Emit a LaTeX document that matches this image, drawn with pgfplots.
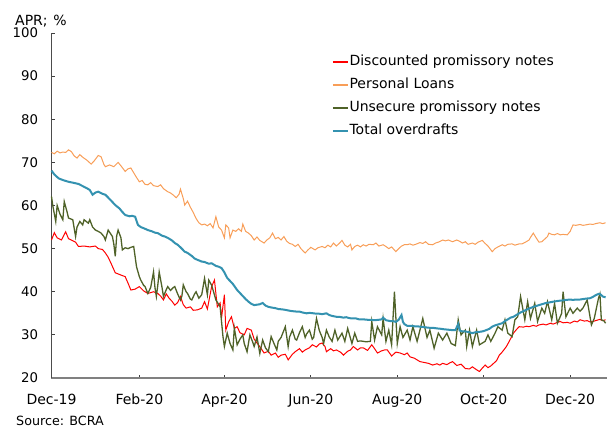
\documentclass[border=0pt]{standalone}
\usepackage{pgfplots}
\pgfplotsset{compat=1.18}
\usepackage{fontspec}
\setmainfont{DejaVu Sans}
\definecolor{cred}{RGB}{255,0,0}
\definecolor{corange}{RGB}{248,158,88}
\definecolor{cgreen}{RGB}{79,98,40}
\definecolor{cblue}{RGB}{52,146,176}
\begin{document}
\begin{tikzpicture}
\useasboundingbox (-51.5bp,-50bp) rectangle (555.5bp,378bp);
\begin{axis}[
  scale only axis,
  width=555.5bp, height=345bp,
  xmin=0, xmax=392, ymin=20, ymax=100,
  axis x line*=bottom, axis y line*=left,
  x axis line style={draw=black!50, line width=1.6bp},
  y axis line style={draw=black!70, line width=0.9bp},
  xtick={0,62,122,183,244,305,366},
  xticklabels={Dec-19,Feb-20,Apr-20,Jun-20,Aug-20,Oct-20,Dec-20},
  ytick={20,30,40,50,60,70,80,90,100},
  tick align=inside,
  major tick length=3bp,
  tick style={draw=black!75, line width=0.8bp},
  /pgf/number format/assume math mode=true,
  yticklabel style={font=\fontsize{13.3bp}{16bp}\selectfont, xshift=-10bp},
  xticklabel style={font=\fontsize{14bp}{16bp}\selectfont, yshift=-12.5bp},
  clip=false,
  legend style={at={(axis description cs:0.505,0.935)}, anchor=north west,
    draw=none, fill=none, inner sep=0pt, row sep=10bp,
    font=\fontsize{14bp}{16bp}\selectfont,
    nodes={inner ysep=0pt, inner xsep=1bp, text height=10bp, text depth=3bp}},
  legend cell align=left,
  legend image code/.code={\draw[#1, line width=1.3bp] (0bp,0bp) -- (15bp,0bp);},
]
\addplot[cred, line width=1bp] coordinates {
(0,52.0) (2,53.7) (4,52.5) (7,52.0) (10,53.9) (12,52.3) (14,52.0) (17,51.5) (19,50.5) (23,50.6) (27,50.4) (31,50.6) (33,50.0) (36,49.8) (38,49.0) (40,48.0) (42,46.6) (45,44.4) (48,44.0) (52,43.5) (54,42.0) (56,40.4) (59,40.6) (62,41.2) (65,40.2) (68,39.6) (72,40.0) (75,39.6) (77,39.0) (79,38.1) (81,39.5) (83,38.5) (85,37.8) (87,36.9) (89,37.5) (91,38.9) (93,37.0) (95,36.2) (98,36.5) (100,35.7) (103,35.8) (106,36.2) (108,37.7) (110,36.0) (113,41.2) (115,42.7) (117,36.5) (119,37.4) (120,34.0) (122,39.3) (123,31.1) (125,33.0) (127,34.2) (129,31.5) (131,31.9) (133,30.5) (136,30.0) (138,31.5) (141,31.1) (143,29.0) (146,27.7) (148,26.8) (150,25.8) (153,26.2) (155,25.3) (158,25.8) (160,24.8) (162,25.3) (165,25.5) (167,24.2) (170,25.5) (172,26.1) (175,26.8) (177,26.0) (179,26.5) (182,27.0) (184,27.7) (187,27.2) (189,27.9) (191,28.1) (193,27.3) (194,26.1) (197,26.8) (199,26.3) (201,26.5) (204,26.0) (206,25.3) (209,26.2) (211,26.5) (213,27.3) (216,26.5) (218,27.0) (220,27.0) (223,26.4) (226,27.7) (228,26.8) (230,25.8) (233,26.3) (235,26.5) (237,26.5) (240,25.1) (243,26.0) (246,25.8) (249,25.4) (251,25.8) (253,24.9) (256,24.6) (258,24.2) (260,23.8) (263,23.6) (266,23.4) (269,23.0) (272,23.3) (274,23.0) (276,23.4) (279,23.1) (281,23.5) (283,23.8) (286,22.9) (289,23.2) (292,22.2) (295,22.1) (297,22.6) (300,21.9) (302,21.5) (304,22.3) (306,23.0) (308,22.4) (310,22.8) (312,23.4) (314,24.0) (316,25.3) (318,26.0) (321,27.3) (323,28.5) (326,30.4) (328,31.2) (330,31.9) (333,31.8) (335,32.0) (337,31.9) (340,32.2) (342,32.0) (344,32.3) (347,32.5) (349,32.3) (352,32.7) (354,32.5) (357,32.9) (359,33.1) (361,32.8) (364,32.9) (366,32.7) (369,33.2) (371,33.0) (373,33.5) (376,33.2) (378,33.3) (380,33.0) (382,33.1) (385,33.4) (387,33.6) (389,33.3) (391,33.5)
};
\addlegendentry{Discounted promissory notes}
\addplot[corange, line width=1bp] coordinates {
(0,72.3) (2,72.0) (4,72.6) (6,72.2) (8,72.4) (10,72.3) (12,72.9) (14,72.5) (16,71.5) (18,71.0) (20,71.8) (22,71.2) (25,70.5) (28,69.6) (30,70.3) (33,71.6) (35,71.3) (37,69.5) (38,69.0) (41,69.4) (44,69.0) (47,70.0) (49,69.2) (52,67.9) (54,68.5) (56,68.7) (58,67.6) (60,66.5) (62,65.5) (64,65.8) (66,64.9) (68,64.8) (70,65.3) (72,64.6) (75,64.4) (77,64.8) (79,63.9) (82,63.2) (84,62.9) (86,62.4) (88,61.8) (90,62.6) (91,63.8) (93,61.6) (94,60.1) (96,61.0) (98,59.6) (100,58.4) (102,57.0) (104,56.0) (106,55.5) (108,55.7) (110,55.3) (112,55.8) (114,54.8) (116,57.4) (118,55.0) (120,54.3) (122,52.5) (123,55.5) (125,54.8) (126,52.5) (128,54.3) (130,54.0) (132,54.6) (134,54.0) (135,55.7) (137,54.0) (139,53.6) (141,53.0) (143,52.0) (145,52.7) (147,51.9) (150,51.3) (152,52.0) (154,52.5) (156,53.6) (158,52.3) (160,52.6) (162,52.0) (164,52.8) (166,51.7) (168,51.2) (170,51.0) (172,50.5) (174,51.0) (176,50.0) (178,49.3) (179,49.0) (181,49.7) (183,50.3) (186,49.7) (188,50.2) (191,50.5) (193,50.2) (195,50.8) (197,50.4) (199,51.3) (201,50.6) (203,51.2) (205,51.9) (207,50.8) (209,50.4) (211,51.0) (212,49.7) (214,50.5) (216,50.8) (218,50.4) (220,50.9) (222,50.6) (224,51.0) (227,50.9) (229,51.3) (231,50.6) (234,50.9) (236,50.5) (238,50.0) (240,50.4) (243,49.3) (245,50.0) (247,50.6) (249,50.9) (251,50.9) (253,51.1) (255,50.8) (257,51.0) (260,51.4) (262,51.2) (264,51.6) (266,51.0) (269,50.9) (271,51.3) (273,51.5) (276,52.0) (278,51.8) (280,52.0) (283,51.6) (286,52.0) (288,51.7) (290,51.3) (292,51.6) (294,51.0) (297,51.3) (299,51.0) (301,51.5) (304,51.9) (306,51.2) (308,50.6) (311,49.3) (313,50.0) (315,50.4) (318,50.9) (320,50.6) (322,51.0) (325,51.1) (327,50.8) (330,51.1) (332,51.1) (335,51.6) (337,52.0) (338,52.6) (340,53.6) (342,52.5) (344,51.5) (346,51.6) (348,52.2) (350,52.8) (351,53.6) (353,53.3) (355,53.2) (357,53.5) (359,53.2) (361,53.3) (364,53.2) (366,54.0) (368,55.5) (370,55.4) (373,55.6) (375,55.4) (377,55.5) (380,55.7) (382,55.6) (384,55.8) (387,56.0) (389,55.8) (391,56.0)
};
\addlegendentry{Personal Loans}
\addplot[cgreen, line width=1.3bp] coordinates {
(0,62.1) (1,59.8) (3,56.3) (4,60.0) (6,58.0) (8,56.7) (9,60.9) (11,58.5) (12,57.1) (15,56.7) (17,52.8) (18,55.0) (20,56.3) (22,55.5) (23,56.7) (26,55.9) (27,56.7) (29,55.0) (31,54.3) (33,54.0) (35,53.6) (37,52.8) (38,52.0) (40,54.3) (43,52.8) (44,51.0) (45,48.2) (46,53.0) (47,54.3) (49,52.5) (50,49.7) (52,50.2) (54,50.0) (56,50.3) (58,50.5) (60,45.8) (62,43.5) (63,42.7) (65,41.5) (66,41.2) (68,39.6) (70,41.0) (72,44.6) (73,41.0) (74,38.9) (75,41.5) (76,44.6) (78,41.0) (79,38.9) (81,40.5) (82,41.2) (84,40.3) (86,41.0) (87,41.2) (89,39.5) (91,38.1) (92,39.0) (93,41.6) (95,40.0) (96,39.6) (98,38.3) (99,38.1) (101,39.5) (102,40.0) (104,38.5) (106,39.3) (108,43.1) (110,39.3) (111,42.7) (113,41.5) (114,40.4) (116,38.1) (119,36.5) (121,29.6) (122,27.3) (124,30.4) (126,28.0) (128,26.5) (129,31.6) (131,27.7) (133,29.0) (135,30.0) (136,28.0) (138,26.1) (140,30.0) (142,28.3) (143,27.3) (145,29.5) (147,25.7) (149,28.8) (151,27.0) (153,26.1) (155,29.6) (157,28.0) (159,26.5) (160,28.5) (162,29.4) (165,31.9) (167,27.3) (168,29.5) (170,31.1) (172,29.0) (173,28.8) (175,30.5) (177,31.9) (179,29.4) (180,30.2) (182,31.1) (184,29.0) (185,29.4) (187,33.8) (189,31.0) (191,29.4) (192,28.0) (194,31.1) (196,29.5) (198,28.5) (200,31.1) (202,28.8) (205,30.4) (207,28.5) (209,31.5) (212,28.0) (214,30.4) (216,28.5) (218,28.6) (220,28.5) (222,28.4) (225,28.5) (226,33.1) (228,28.8) (230,31.9) (233,30.0) (234,33.8) (236,28.5) (238,31.1) (240,27.7) (242,40.0) (244,28.0) (246,31.9) (248,29.4) (251,31.1) (253,28.8) (255,31.9) (258,28.5) (260,31.1) (262,33.8) (265,29.4) (267,31.1) (270,26.9) (273,30.4) (276,28.8) (279,30.4) (282,28.0) (285,27.5) (287,33.5) (289,30.0) (290,30.4) (292,31.1) (293,27.3) (295,31.1) (297,27.3) (300,31.1) (302,27.7) (306,28.5) (308,30.0) (310,28.5) (313,30.4) (315,31.9) (318,31.1) (320,33.5) (322,30.4) (325,29.6) (327,33.5) (329,34.2) (331,38.9) (334,33.5) (336,37.7) (338,33.8) (341,37.3) (343,33.1) (346,36.2) (348,35.0) (350,37.7) (353,33.5) (355,37.3) (357,32.7) (360,35.0) (361,40.0) (363,34.2) (366,36.2) (368,35.0) (371,36.2) (373,35.5) (375,36.2) (378,38.1) (381,32.3) (383,33.8) (386,38.5) (387,39.5) (388,33.5) (390,33.2) (391,32.7)
};
\addlegendentry{Unsecure promissory notes}
\addplot[cblue, line width=2bp] coordinates {
(0,68.1) (2,67.2) (5,66.3) (8,65.9) (12,65.5) (15,65.3) (19,65.0) (22,64.5) (25,64.0) (27,63.6) (29,62.5) (31,63.0) (33,63.2) (36,62.7) (38,62.5) (41,61.5) (43,60.8) (45,60.1) (48,59.3) (50,58.5) (52,57.8) (55,57.5) (57,57.6) (59,57.4) (61,55.5) (63,55.0) (66,54.6) (68,54.3) (71,54.0) (73,53.7) (75,53.6) (78,53.0) (80,52.8) (82,52.5) (85,51.9) (87,51.3) (89,50.9) (91,50.3) (94,49.3) (96,49.0) (99,48.3) (101,47.7) (103,47.4) (106,47.0) (108,46.9) (111,46.5) (113,46.6) (116,46.0) (118,45.8) (120,45.5) (122,44.5) (124,43.2) (126,42.5) (128,41.8) (131,40.4) (133,39.7) (135,39.0) (137,38.3) (139,37.7) (141,37.2) (143,36.9) (145,37.0) (147,37.1) (149,37.4) (151,36.8) (153,36.5) (156,36.3) (158,36.2) (160,36.0) (163,35.9) (165,35.8) (168,35.6) (170,35.5) (173,35.4) (175,35.4) (177,35.2) (180,35.0) (182,35.1) (185,35.0) (187,34.9) (189,34.9) (191,34.8) (194,35.0) (196,34.6) (198,34.4) (201,34.2) (203,34.2) (206,34.0) (208,34.1) (210,33.9) (212,33.8) (215,33.8) (217,33.6) (220,33.6) (223,33.5) (225,33.5) (228,33.4) (231,33.5) (233,33.6) (234,34.0) (236,33.4) (239,33.2) (241,33.2) (243,33.0) (245,33.5) (247,34.6) (248,33.0) (249,32.5) (251,32.1) (254,32.1) (256,32.0) (258,32.0) (260,31.9) (263,31.8) (265,31.7) (268,31.6) (270,31.6) (272,31.5) (275,31.4) (277,31.3) (280,31.2) (283,31.1) (285,31.1) (287,32.5) (288,31.0) (290,30.8) (292,30.8) (295,30.6) (297,30.4) (299,30.6) (302,30.7) (304,30.8) (306,31.0) (309,31.4) (311,31.9) (313,32.2) (316,32.5) (318,32.7) (320,33.2) (322,33.6) (324,34.0) (326,34.2) (329,34.8) (331,35.2) (333,35.5) (335,35.8) (337,36.1) (340,36.5) (342,36.7) (344,36.9) (347,37.2) (349,37.4) (351,37.5) (354,37.7) (356,37.8) (358,37.9) (361,38.0) (363,38.1) (366,38.2) (368,38.1) (370,38.2) (373,38.2) (375,38.3) (377,38.4) (380,38.5) (382,38.8) (384,39.2) (386,39.5) (387,39.5) (389,38.9) (391,38.7)
};
\addlegendentry{Total overdrafts}
\end{axis}
\node[anchor=west, inner sep=0pt, font=\fontsize{14bp}{16bp}\selectfont] at (-36.5bp,357bp) {APR;\hspace{0.4em}\%};
\node[anchor=west, inner sep=0pt, font=\fontsize{12.7bp}{15bp}\selectfont] at (-35.5bp,-42.5bp) {Source: BCRA};
\end{tikzpicture}
\end{document}
